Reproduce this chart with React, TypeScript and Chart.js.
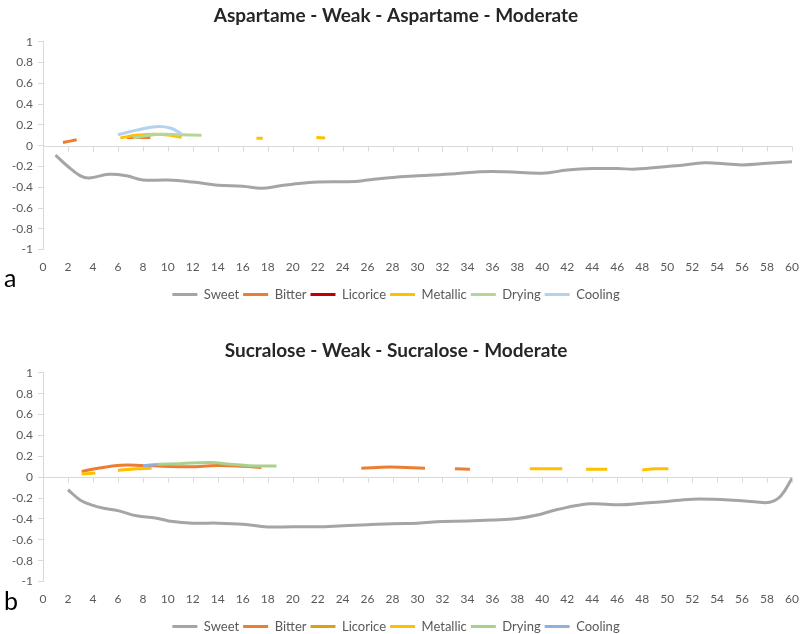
import React, { useEffect, useRef } from "react";
import { Chart, registerables } from "chart.js";

Chart.register(...registerables);

type Pt = [number, number | null];

// ---- shared labels ----
const seriesNames = ["Sweet", "Bitter", "Licorice", "Metallic", "Drying", "Cooling"];
const xTickValues = [0, 2, 4, 6, 8, 10, 12, 14, 16, 18, 20, 22, 24, 26, 28, 30, 32, 34, 36, 38, 40, 42, 44, 46, 48, 50, 52, 54, 56, 58, 60];
const yTickValues = [-1, -0.8, -0.6, -0.4, -0.2, 0, 0.2, 0.4, 0.6, 0.8, 1];

// ---- chart a: Aspartame ----
const titleA = "Aspartame - Weak - Aspartame - Moderate";
const sweetA: Pt[] = [[1, -0.09], [2, -0.2], [3, -0.29], [3.7, -0.31], [5.3, -0.275], [6.7, -0.29], [8, -0.33], [10, -0.33], [12, -0.35], [14, -0.38], [16, -0.39], [17.5, -0.41], [19, -0.385], [20, -0.37], [22, -0.35], [25, -0.345], [26, -0.33], [28, -0.305], [30, -0.29], [33, -0.27], [35, -0.25], [37, -0.25], [40, -0.265], [42, -0.235], [44, -0.22], [46, -0.22], [47.5, -0.225], [50, -0.2], [51, -0.19], [53, -0.165], [54, -0.17], [56, -0.185], [58, -0.17], [60, -0.155]];
const bitterA: Pt[] = [[1.6, 0.03], [2.7, 0.058], [4, null], [6.7, 0.08], [8.6, 0.08]];
const licoriceA: Pt[] = [];
const metallicA: Pt[] = [[6.2, 0.075], [7.5, 0.1], [9, 0.11], [10.2, 0.1], [11.1, 0.08], [14, null], [17.1, 0.072], [17.6, 0.072], [20, null], [21.9, 0.08], [22.6, 0.075]];
const dryingA: Pt[] = [[7.2, 0.075], [8.5, 0.1], [9.5, 0.11], [11, 0.105], [12.7, 0.1]];
const coolingA: Pt[] = [[6, 0.105], [7.5, 0.15], [9, 0.183], [10.2, 0.17], [11.1, 0.115]];
const colorsA = ["#A5A5A5", "#ED7D31", "#C00000", "#FFC000", "#B4D69C", "#B4D2EE"];

// ---- chart b: Sucralose ----
const titleB = "Sucralose - Weak - Sucralose - Moderate";
const sweetB: Pt[] = [[2, -0.12], [3, -0.22], [4, -0.27], [5, -0.3], [6, -0.32], [7.5, -0.37], [9, -0.39], [10.4, -0.425], [12, -0.44], [14, -0.44], [16, -0.45], [18, -0.476], [20, -0.475], [22, -0.475], [24, -0.465], [26, -0.455], [28, -0.445], [30, -0.44], [32, -0.425], [34, -0.42], [36, -0.41], [38, -0.395], [39.5, -0.365], [41.2, -0.31], [43.8, -0.255], [46.2, -0.265], [48, -0.25], [49.7, -0.235], [51, -0.22], [52.6, -0.21], [55.3, -0.22], [57, -0.235], [58.2, -0.24], [59.1, -0.18], [60, -0.01]];
const bitterB: Pt[] = [[3.1, 0.055], [4.3, 0.083], [6.2, 0.115], [8, 0.113], [9.6, 0.105], [11.8, 0.1], [13.9, 0.112], [16, 0.105], [17.5, 0.094], [21, null], [25.5, 0.086], [27.8, 0.097], [30.6, 0.086], [32, null], [33, 0.08], [34.2, 0.075]];
const licoriceB: Pt[] = [];
const metallicB: Pt[] = [[3.1, 0.03], [4.2, 0.04], [5, null], [6, 0.065], [7.5, 0.08], [8.7, 0.085], [20, null], [39, 0.08], [41.6, 0.08], [42.5, null], [43.5, 0.077], [45.2, 0.075], [46.5, null], [48, 0.07], [49, 0.08], [50.1, 0.082]];
const dryingB: Pt[] = [[9.2, 0.123], [11, 0.13], [13.4, 0.14], [15, 0.125], [16.5, 0.11], [18.7, 0.107]];
const coolingB: Pt[] = [[8, 0.11], [9.2, 0.122]];
const colorsB = ["#A5A5A5", "#ED7D31", "#DBA20E", "#FFC000", "#A9D18E", "#8EB0E0"];

const FONT = "Lato, 'Open Sans', sans-serif";
const TEXT = "#595959";
const AXIS = "#D9D9D9";

const zeroAxisPlugin = {
  id: "zeroAxis",
  beforeDatasetsDraw(chart: any) {
    const { ctx, chartArea, scales } = chart;
    const y0 = Math.round(scales.y.getPixelForValue(0)) + 0.5;
    ctx.save();
    ctx.strokeStyle = AXIS;
    ctx.lineWidth = 1;
    ctx.beginPath();
    ctx.moveTo(chartArea.left, y0);
    ctx.lineTo(chartArea.right, y0);
    xTickValues.forEach((v) => {
      const x = Math.round(scales.x.getPixelForValue(v)) + 0.5;
      ctx.moveTo(x, y0);
      ctx.lineTo(x, y0 + 5);
    });
    ctx.stroke();
    ctx.restore();
  },
};

function TasteChart({ title, series, colors, titleGap, height }: { title: string; series: Pt[][]; colors: string[]; titleGap: number; height: number }) {
  const ref = useRef<HTMLCanvasElement>(null);
  useEffect(() => {
    if (!ref.current) return;
    const datasets = series.map((pts, i) => ({
      label: seriesNames[i],
      data: pts.map(([x, y]) => ({ x, y })),
      borderColor: colors[i],
      backgroundColor: colors[i],
      borderWidth: 3,
      pointRadius: 0,
      tension: 0.4,
      fill: false,
      spanGaps: false,
      order: seriesNames.length - i,
    }));
    const chart = new Chart(ref.current, {
      type: "line",
      data: { datasets },
      plugins: [zeroAxisPlugin],
      options: {
        animation: false,
        responsive: false,
        layout: { padding: { left: 0, right: 8, top: 0, bottom: 3 } },
        plugins: {
          tooltip: { enabled: false },
          title: {
            display: true,
            text: title,
            color: "#262626",
            font: { family: FONT, size: 19, weight: "bold" },
            padding: { top: 4, bottom: titleGap },
          },
          legend: {
            position: "bottom",
            labels: {
              color: TEXT,
              font: { family: FONT, size: 13 },
              boxWidth: 25,
              boxHeight: 3,
              padding: 4,
              sort: (a: any, b: any) => a.datasetIndex - b.datasetIndex,
              generateLabels: (c: any) =>
                (Chart.defaults.plugins.legend.labels.generateLabels as any)(c).map((it: any) => ({
                  ...it,
                  lineWidth: 0,
                  fillStyle: it.strokeStyle,
                })),
            },
          },
        },
        scales: {
          x: {
            type: "linear",
            min: 0,
            max: 60,
            afterBuildTicks: (s: any) => {
              s.ticks = xTickValues.map((v) => ({ value: v }));
            },
            afterFit: (s: any) => {
              s.paddingRight = 0;
              s.paddingLeft = 0;
            },
            grid: { display: false, drawTicks: false },
            border: { display: false },
            ticks: { color: TEXT, font: { family: FONT, size: 12 }, padding: 10, maxRotation: 0, autoSkip: false },
          },
          y: {
            type: "linear",
            min: -1,
            max: 1,
            afterBuildTicks: (s: any) => {
              s.ticks = yTickValues.map((v) => ({ value: v }));
            },
            afterFit: (s: any) => {
              s.width = 43;
            },
            grid: { display: true, drawOnChartArea: false, drawTicks: true, tickLength: 5, color: AXIS },
            border: { display: true, color: AXIS },
            ticks: {
              color: TEXT,
              font: { family: FONT, size: 12 },
              padding: 5,
              callback: (v: any) => String(Number(Number(v).toFixed(1))),
            },
          },
        },
      } as any,
    });
    return () => chart.destroy();
  }, []);
  return <canvas ref={ref} width={800} height={height} style={{ display: "block" }} />;
}

const labelStyle: React.CSSProperties = {
  position: "absolute",
  left: 4,
  fontFamily: FONT,
  fontSize: 25,
  color: "#000",
  lineHeight: "25px",
};

export default function App() {
  return (
    <div style={{ position: "fixed", left: 0, top: 0, width: 800, height: 634, background: "#fff", overflow: "hidden" }}>
      <div style={{ position: "absolute", left: 0, top: 0 }}>
        <TasteChart title={titleA} series={[sweetA, bitterA, licoriceA, metallicA, dryingA, coolingA]} colors={colorsA} titleGap={15} height={314} />
      </div>
      <div style={{ position: "absolute", left: 0, top: 335 }}>
        <TasteChart title={titleB} series={[sweetB, bitterB, licoriceB, metallicB, dryingB, coolingB]} colors={colorsB} titleGap={11} height={311} />
      </div>
      <div style={{ ...labelStyle, top: 265 }}>a</div>
      <div style={{ ...labelStyle, top: 588 }}>b</div>
    </div>
  );
}
